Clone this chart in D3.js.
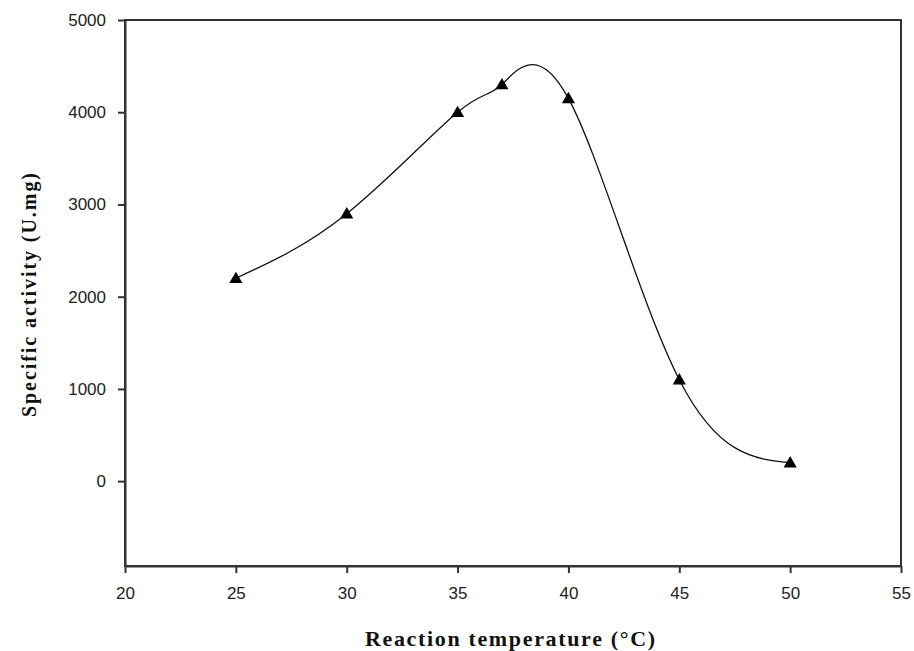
<!DOCTYPE html>
<html>
<head>
<meta charset="utf-8">
<script src="https://cdn.jsdelivr.net/npm/d3@7.9.0/dist/d3.min.js"></script>
<style>
  body { margin: 0; background: #fff; }
  svg { display: block; }
</style>
</head>
<body>
<svg id="chart" width="914" height="651"></svg>
<script>
// Data
const temperatures = [25, 30, 35, 37, 40, 45, 50];
const activities = [2200, 2900, 4000, 4300, 4150, 1100, 200];
const xTicks = [20, 25, 30, 35, 40, 45, 50, 55];
const yTicks = [0, 1000, 2000, 3000, 4000, 5000];

const width = 914, height = 651;
const margin = { top: 20, right: 13, bottom: 85, left: 125 };

const svg = d3.select('#chart');

// Scales
const x = d3.scaleLinear().domain([20, 55]).range([margin.left, width - margin.right]);
const y = d3.scaleLinear().domain([-920, 5000]).range([height - margin.bottom, margin.top]);

// Frame (top and right lines)
svg.append('rect')
  .attr('x', x(20)).attr('y', y(5000))
  .attr('width', x(55) - x(20)).attr('height', y(-920) - y(5000))
  .attr('fill', 'none').attr('stroke', '#333').attr('stroke-width', 2);

// Axes
const xAxis = svg.append('g')
  .attr('transform', `translate(0,${y(-920)})`)
  .call(d3.axisBottom(x).tickValues(xTicks).tickFormat(d3.format('d'))
    .tickSize(7).tickSizeOuter(0).tickPadding(14));

const yAxis = svg.append('g')
  .attr('transform', `translate(${x(20)},0)`)
  .call(d3.axisLeft(y).tickValues(yTicks).tickFormat(d3.format('d'))
    .tickSize(7).tickSizeOuter(0).tickPadding(12));

[xAxis, yAxis].forEach(g => {
  g.select('.domain').attr('stroke', '#333').attr('stroke-width', 2);
  g.selectAll('.tick line').attr('stroke', '#333').attr('stroke-width', 2);
  g.selectAll('.tick text')
    .attr('fill', '#222')
    .style('font-family', 'Liberation Sans, Arial, sans-serif')
    .style('font-size', '17px');
});

// Curve
const points = temperatures.map((t, i) => [t, activities[i]]);
const line = d3.line()
  .x(d => x(d[0]))
  .y(d => y(d[1]))
  .curve(d3.curveNatural);

svg.append('path')
  .datum(points)
  .attr('d', line)
  .attr('fill', 'none')
  .attr('stroke', '#111')
  .attr('stroke-width', 1.3);

// Triangle markers
const tri = d3.symbol().type(d3.symbolTriangle).size(75);
svg.selectAll('.marker')
  .data(points)
  .join('path')
  .attr('class', 'marker')
  .attr('transform', d => `translate(${x(d[0])},${y(d[1]) + 1})`)
  .attr('d', tri)
  .attr('fill', '#000');

// Axis titles
svg.append('text')
  .attr('x', 365)
  .attr('y', 646)
  .attr('textLength', 290)
  .attr('lengthAdjust', 'spacing')
  .style('font-family', 'Liberation Serif, Times New Roman, serif')
  .style('font-weight', 'bold')
  .style('font-size', '22px')
  .attr('fill', '#111')
  .text('Reaction temperature (°C)');

svg.append('text')
  .attr('transform', 'translate(36,417) rotate(-90)')
  .attr('textLength', 244)
  .attr('lengthAdjust', 'spacing')
  .style('font-family', 'Liberation Serif, Times New Roman, serif')
  .style('font-weight', 'bold')
  .style('font-size', '20px')
  .attr('fill', '#111')
  .text('Specific activity (U.mg)');
</script>
</body>
</html>
